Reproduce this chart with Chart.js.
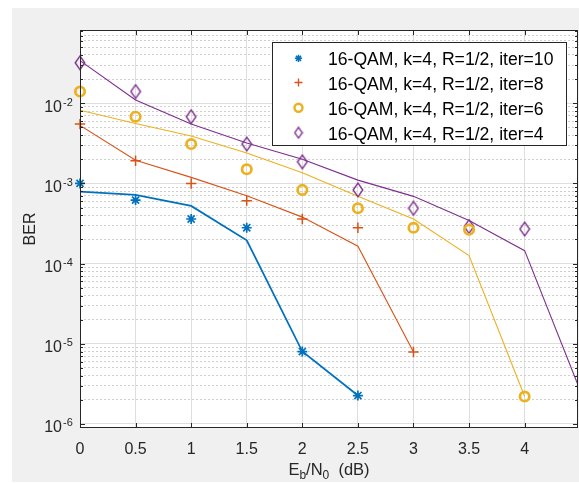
<!DOCTYPE html>
<html>
<head>
<meta charset="utf-8">
<script src="https://cdn.jsdelivr.net/npm/chart.js@4.4.1/dist/chart.umd.min.js"></script>
<style>
  html, body { margin: 0; padding: 0; background: #fff; overflow: hidden; }
  #wrap { width: 579px; height: 483px; }
  #berChart { display: block; }
</style>
</head>
<body>
<div id="wrap"><canvas id="berChart" width="579" height="483"></canvas></div>
<script>
/* ==============================
   DATA
============================== */
const ebn0 = [0, 0.5, 1, 1.5, 2, 2.5, 3, 3.5, 4, 4.5];
const xTicks = [0, 0.5, 1, 1.5, 2, 2.5, 3, 3.5, 4];
const yDecades = [-6, -5, -4, -3, -2];

const seriesLabels = [
  "16-QAM, k=4, R=1/2, iter=10",
  "16-QAM, k=4, R=1/2, iter=8",
  "16-QAM, k=4, R=1/2, iter=6",
  "16-QAM, k=4, R=1/2, iter=4",
];

// simulated BER (markers)
const simIter10 = [1.0e-3, 6.2e-4, 3.6e-4, 2.8e-4, 8.0e-6, 2.26e-6];
const simIter8 = [5.5e-3, 1.92e-3, 1.0e-3, 6.1e-4, 3.6e-4, 2.8e-4, 7.9e-6];
const simIter6 = [1.4e-2, 6.8e-3, 3.1e-3, 1.5e-3, 8.3e-4, 4.9e-4, 2.8e-4, 2.65e-4, 2.2e-6];
const simIter4 = [3.2e-2, 1.4e-2, 6.8e-3, 3.1e-3, 1.86e-3, 8.3e-4, 4.9e-4, 2.9e-4, 2.7e-4];

// fitted curves (lines)
const fitIter10 = [7.9e-4, 7.2e-4, 5.25e-4, 1.95e-4, 8.0e-6, 2.26e-6];
const fitIter8 = [5.3e-3, 1.95e-3, 1.19e-3, 7.0e-4, 3.8e-4, 1.65e-4, 7.9e-6];
const fitIter6 = [8.2e-3, 5.6e-3, 3.9e-3, 2.4e-3, 1.36e-3, 6.9e-4, 3.6e-4, 1.26e-4, 2.2e-6];
const fitIter4 = [3.4e-2, 1.1e-2, 5.5e-3, 3.2e-3, 2.0e-3, 1.1e-3, 6.9e-4, 3.45e-4, 1.45e-4, 2.6e-6];

const colors = ["#0072BD", "#D95319", "#EDB120", "#7E2F8E"];
const FONT = "'Liberation Sans', Arial, sans-serif";
const INK = "#262626";

// plot box in page pixels (MATLAB axes position)
const BOX = { left: 80, top: 30, right: 578, bottom: 428 };

/* ==============================
   HELPERS
============================== */
const toPoints = (arr) => arr.map((y, i) => ({ x: ebn0[i], y }));

const isDecade = (v) =>
  v > 0 && Math.abs(Math.log10(v) - Math.round(Math.log10(v))) < 1e-9;

// all 1..9 x 10^e grid values between the axis limits
const Y_MIN = 8.9e-7;
const Y_MAX = 0.082;
const yGridValues = [];
yDecades.forEach((e) => {
  for (let k = 1; k <= 9; k++) {
    const v = k * Math.pow(10, e);
    if (v >= Y_MIN && v <= Y_MAX) yGridValues.push(v);
  }
});

function makeDiamond(color, w, h, lw) {
  const c = document.createElement("canvas");
  c.width = w;
  c.height = h;
  const g = c.getContext("2d");
  g.strokeStyle = color;
  g.lineWidth = lw;
  g.beginPath();
  g.moveTo(w / 2, 1.2);
  g.lineTo(w - 1.2, h / 2);
  g.lineTo(w / 2, h - 1.2);
  g.lineTo(1.2, h / 2);
  g.closePath();
  g.stroke();
  return c;
}

const markers = [
  { pointStyle: "star", radius: 5, width: 1.7 },
  { pointStyle: "cross", radius: 5.2, width: 1.5 },
  { pointStyle: "circle", radius: 4.7, width: 2.7 },
  { pointStyle: makeDiamond(colors[3], 12, 16, 1.4), radius: 6, width: 1.4 },
];
const legendMarkers = [
  { pointStyle: "star", radius: 3.6, width: 1.5 },
  { pointStyle: "cross", radius: 4, width: 1.4 },
  { pointStyle: "circle", radius: 4, width: 2.4 },
  { pointStyle: makeDiamond(colors[3], 10, 13, 1.3), radius: 5, width: 1.3 },
];

const simSets = [simIter10, simIter8, simIter6, simIter4];
const fitSets = [fitIter10, fitIter8, fitIter6, fitIter4];

const datasets = [];
simSets.forEach((arr, i) => {
  datasets.push({
    label: seriesLabels[i],
    data: toPoints(arr),
    showLine: false,
    pointStyle: markers[i].pointStyle,
    pointRadius: markers[i].radius,
    pointBorderWidth: markers[i].width,
    pointBorderColor: colors[i],
    pointBackgroundColor: "rgba(0,0,0,0)",
    clip: false,
  });
});
fitSets.forEach((arr, i) => {
  datasets.push({
    label: seriesLabels[i] + " (fit)",
    data: toPoints(arr),
    borderColor: colors[i],
    borderWidth: i === 0 ? 1.8 : 1.1,
    pointRadius: 0,
    fill: false,
    tension: 0,
  });
});

/* ==============================
   MATLAB-LIKE AXES PLUGIN
============================== */
const matlabAxes = {
  id: "matlabAxes",
  beforeDraw(chart) {
    const { ctx, chartArea: a } = chart;
    ctx.save();
    ctx.fillStyle = "#ffffff";
    ctx.fillRect(0, 0, chart.width, chart.height);
    ctx.fillStyle = "#f0f0f0";
    ctx.fillRect(12, 8, chart.width - 12, 474);
    ctx.fillStyle = "#ffffff";
    ctx.fillRect(a.left, a.top, a.right - a.left, a.bottom - a.top);
    ctx.restore();
  },
  afterDraw(chart) {
    const { ctx, chartArea: a } = chart;
    const xs = chart.scales.x;
    const ys = chart.scales.y;
    ctx.save();

    // box
    ctx.strokeStyle = INK;
    ctx.lineWidth = 1;
    ctx.strokeRect(a.left + 0.5, a.top + 0.5, a.right - a.left - 1, a.bottom - a.top - 1);

    // inward ticks
    ctx.beginPath();
    xTicks.forEach((v) => {
      const px = Math.round(xs.getPixelForValue(v)) + 0.5;
      ctx.moveTo(px, a.bottom);
      ctx.lineTo(px, a.bottom - 5);
      ctx.moveTo(px, a.top);
      ctx.lineTo(px, a.top + 5);
    });
    yGridValues.forEach((v) => {
      const py = Math.round(ys.getPixelForValue(v)) + 0.5;
      const len = isDecade(v) ? 5 : 3;
      ctx.moveTo(a.left, py);
      ctx.lineTo(a.left + len, py);
      ctx.moveTo(a.right, py);
      ctx.lineTo(a.right - len, py);
    });
    ctx.stroke();

    // x tick labels
    ctx.fillStyle = INK;
    ctx.font = `16px ${FONT}`;
    ctx.textAlign = "center";
    ctx.textBaseline = "alphabetic";
    xTicks.forEach((v) => {
      ctx.fillText(String(v), xs.getPixelForValue(v), 453.5);
    });

    // y tick labels 10^e
    yDecades.forEach((e) => {
      const py = ys.getPixelForValue(Math.pow(10, e));
      ctx.font = `16px ${FONT}`;
      ctx.textAlign = "right";
      ctx.fillText("10", 62, py + 8.4);
      ctx.font = `11px ${FONT}`;
      ctx.textAlign = "left";
      ctx.fillText(String(e), 63, py + 2.5);
    });

    // y title
    ctx.save();
    ctx.translate(35, (a.top + a.bottom) / 2);
    ctx.rotate(-Math.PI / 2);
    ctx.font = `16px ${FONT}`;
    ctx.textAlign = "center";
    ctx.fillText("BER", 0, 0);
    ctx.restore();

    // x title  E_b/N_0 (dB)
    const parts = [
      { t: "E", sub: false },
      { t: "b", sub: true },
      { t: "/N", sub: false },
      { t: "0", sub: true },
      { t: "  (dB)", sub: false },
    ];
    const fontFor = (p) => (p.sub ? `12px ${FONT}` : `16.5px ${FONT}`);
    let total = 0;
    parts.forEach((p) => {
      ctx.font = fontFor(p);
      p.w = ctx.measureText(p.t).width;
      total += p.w;
    });
    let cx = (a.left + a.right) / 2 - total / 2;
    const base = 475;
    ctx.textAlign = "left";
    parts.forEach((p) => {
      ctx.font = fontFor(p);
      ctx.fillText(p.t, cx, p.sub ? base + 4 : base);
      cx += p.w;
    });

    // legend
    const box = { x: 272.5, y: 42.5, w: 294, h: 103 };
    ctx.fillStyle = "#ffffff";
    ctx.fillRect(box.x, box.y, box.w, box.h);
    ctx.strokeStyle = INK;
    ctx.lineWidth = 1;
    ctx.strokeRect(box.x, box.y, box.w, box.h);
    const rowY = [58.3, 82.5, 107.7, 132.7];
    const baseY = [65, 89.5, 115, 140];
    seriesLabels.forEach((label, i) => {
      const m = legendMarkers[i];
      ctx.save();
      ctx.strokeStyle = colors[i];
      ctx.fillStyle = "rgba(0,0,0,0)";
      ctx.lineWidth = m.width;
      Chart.helpers.drawPoint(ctx, { pointStyle: m.pointStyle, radius: m.radius, rotation: 0, borderWidth: m.width }, 298.5, rowY[i]);
      ctx.restore();
      ctx.fillStyle = "#000000";
      ctx.font = `17.6px ${FONT}`;
      ctx.textAlign = "left";
      ctx.fillText(label, 328, baseY[i]);
    });

    ctx.restore();
  },
};

/* ==============================
   CHART
============================== */
new Chart(document.getElementById("berChart"), {
  type: "line",
  data: { datasets },
  options: {
    responsive: false,
    animation: false,
    events: [],
    // no automatic padding for marker overflow, the box must sit at BOX
    layout: {
      autoPadding: false,
      padding: { top: BOX.top, right: 579 - BOX.right, left: 0, bottom: 0 },
    },
    scales: {
      x: {
        type: "linear",
        min: 0,
        max: 4.48,
        afterBuildTicks: (s) => {
          s.ticks = xTicks.map((v) => ({ value: v }));
        },
        afterFit: (s) => {
          s.height = 483 - BOX.bottom;
          s.paddingLeft = 0;
          s.paddingRight = 0;
        },
        grid: { color: "#dedede", lineWidth: 1, drawTicks: false },
        border: { display: false },
        ticks: { display: false },
      },
      y: {
        type: "logarithmic",
        min: Y_MIN,
        max: Y_MAX,
        afterBuildTicks: (s) => {
          s.ticks = yGridValues.map((v) => ({ value: v, major: isDecade(v) }));
        },
        afterFit: (s) => {
          s.width = BOX.left;
          s.paddingTop = 0;
          s.paddingBottom = 0;
        },
        grid: {
          drawTicks: false,
          lineWidth: 1,
          color: (c) => (c.tick && isDecade(c.tick.value) ? "#dedede" : "#cfcfcf"),
        },
        border: {
          display: false,
          dash: (c) => (c.tick && !isDecade(c.tick.value) ? [2, 2] : []),
        },
        ticks: { display: false },
      },
    },
    plugins: {
      legend: { display: false },
      tooltip: { enabled: false },
    },
  },
  plugins: [matlabAxes],
});
</script>
</body>
</html>
